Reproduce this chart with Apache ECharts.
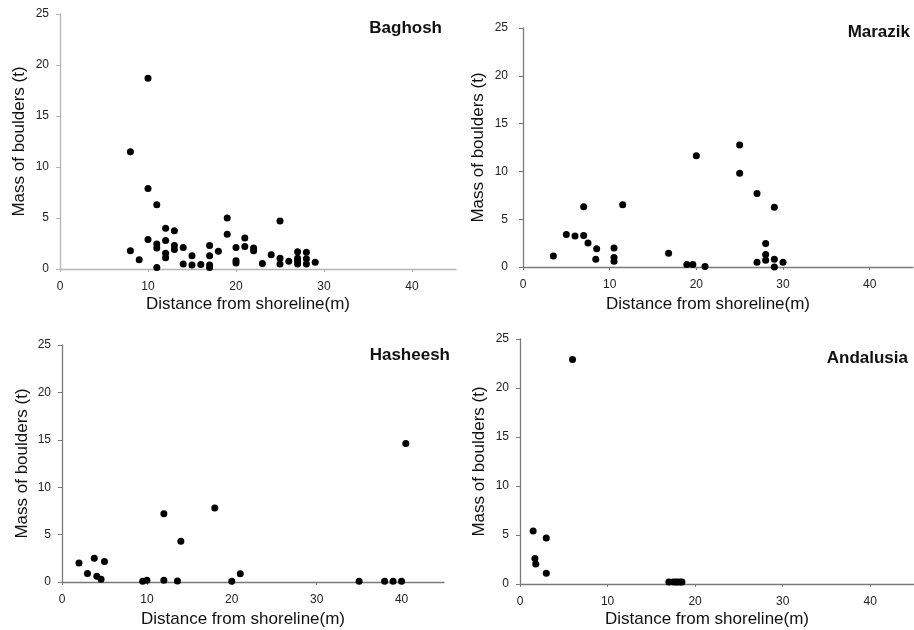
<!DOCTYPE html>
<html>
<head>
<meta charset="utf-8">
<script src="https://cdn.jsdelivr.net/npm/echarts@6/dist/echarts.min.js"></script>
<style>html,body{margin:0;padding:0;background:#fff}#c{width:914px;height:630px}</style>
</head>
<body>
<div id="c"></div>
<script>
// ---- Data (distance from shoreline in m, mass of boulders in t) ----
const siteNames = ['Baghosh', 'Marazik', 'Hasheesh', 'Andalusia'];

const baghoshDist = [8, 8, 9, 10, 10, 10, 11, 11, 11, 11, 12, 12, 12, 12, 13, 13, 13, 14, 14, 15, 15, 16, 17, 17, 17, 17, 18, 19, 19, 20, 20, 20, 21, 21, 22, 22, 23, 24, 25, 25, 25, 26, 27, 27, 27, 27, 28, 28, 28, 29];
const baghoshMass = [11.5, 1.8, 0.9, 18.7, 7.9, 2.9, 6.3, 2.45, 2.05, 0.15, 4.0, 2.8, 1.55, 1.1, 3.75, 2.3, 1.9, 2.1, 0.5, 1.3, 0.4, 0.45, 2.3, 1.3, 0.4, 0.15, 1.75, 5.0, 3.4, 2.1, 0.8, 0.6, 3.05, 2.2, 2.05, 1.8, 0.55, 1.4, 4.7, 1.05, 0.5, 0.75, 1.7, 1.05, 0.8, 0.5, 1.65, 1.0, 0.5, 0.65];

const marazikDist = [3.5, 5, 6, 7, 7, 7.5, 8.5, 8.4, 10.5, 10.5, 10.5, 11.5, 16.8, 18.9, 19.6, 20, 21, 25, 25, 27, 27, 28, 28, 28, 29, 29, 29, 30];
const marazikMass = [1.15, 3.4, 3.25, 6.3, 3.3, 2.5, 1.9, 0.8, 2.0, 1.0, 0.6, 6.5, 1.45, 0.25, 0.25, 11.65, 0.05, 12.75, 9.8, 7.7, 0.5, 2.45, 1.3, 0.7, 6.25, 0.8, 0.0, 0.5];

const hasheeshDist = [2, 3, 3.8, 4.1, 4.6, 5, 9.5, 10, 12, 12, 13.6, 14, 18, 20, 21, 35, 38, 39, 40, 40.5];
const hasheeshMass = [2.0, 0.9, 2.5, 0.6, 0.3, 2.15, 0.07, 0.18, 7.2, 0.18, 0.1, 4.3, 7.8, 0.07, 0.88, 0.07, 0.07, 0.07, 0.07, 14.6];

const andalusiaDist = [1.5, 3, 1.7, 1.8, 3, 6, 17, 17.5, 17.8, 18, 18.3, 18.5];
const andalusiaMass = [5.4, 4.7, 2.6, 2.05, 1.1, 22.9, 0.2, 0.2, 0.2, 0.2, 0.2, 0.2];

const xTicks = [0, 10, 20, 30, 40];
const yTicks = [0, 5, 10, 15, 20, 25];
const xTitle = 'Distance from shoreline(m)';
const yTitle = 'Mass of boulders (t)';

const dists = [baghoshDist, marazikDist, hasheeshDist, andalusiaDist];
const masses = [baghoshMass, marazikMass, hasheeshMass, andalusiaMass];

// ---- Layout / style ----
const FONT = '"Liberation Sans", Arial, sans-serif';
const grids = [
  { left: 60, top: 14, width: 396, height: 255 },
  { left: 523, top: 28, width: 390, height: 239 },
  { left: 62, top: 345, width: 382, height: 237 },
  { left: 520, top: 339, width: 394, height: 245 }
];
const axisColors = ['#b4b4b4', '#7a7a7a', '#7a7a7a', '#7a7a7a'];
const xGaps = [27, 29, 29, 27];
const yGaps = [32, 36, 31, 32];
const yLabelMargins = [11, 15, 11, 11];
const labelPos = [[442, 28], [910, 32], [450, 355], [908, 358]];

const xAxes = [], yAxes = [], series = [], graphics = [];
for (let i = 0; i < 4; i++) {
  const ac = axisColors[i];
  xAxes.push({
    gridIndex: i, type: 'value', min: 0, max: 45,
    name: xTitle, nameLocation: 'middle', nameGap: xGaps[i],
    nameTextStyle: { fontFamily: FONT, fontSize: 17, color: '#111', padding: [0, 20, 0, 0] },
    axisLine: { show: true, onZero: false, lineStyle: { color: ac, width: 1.3 } },
    axisTick: { show: true, inside: false, length: 3, customValues: xTicks, lineStyle: { color: ac } },
    axisLabel: { customValues: xTicks, margin: 12, fontFamily: FONT, fontSize: 12, color: '#222' },
    splitLine: { show: false }
  });
  yAxes.push({
    gridIndex: i, type: 'value', min: 0, max: 25, interval: 5,
    name: yTitle, nameLocation: 'middle', nameGap: yGaps[i],
    nameTextStyle: { fontFamily: FONT, fontSize: 17, color: '#111' },
    axisLine: { show: true, onZero: false, lineStyle: { color: ac, width: 1.3 } },
    axisTick: { show: true, inside: false, length: 4, lineStyle: { color: ac } },
    axisLabel: { margin: yLabelMargins[i], fontFamily: FONT, fontSize: 12, color: '#222' },
    splitLine: { show: false }
  });
  series.push({
    type: 'scatter', name: siteNames[i], xAxisIndex: i, yAxisIndex: i,
    symbol: 'circle', symbolSize: 7,
    itemStyle: { color: '#000', opacity: 1 },
    data: dists[i].map((d, k) => [d, masses[i][k]])
  });
  graphics.push({
    type: 'text', x: labelPos[i][0], y: labelPos[i][1],
    style: { text: siteNames[i], fontFamily: FONT, fontSize: 17, fontWeight: 'bold', fill: '#111', align: 'right', verticalAlign: 'middle' }
  });
}

const chart = echarts.init(document.getElementById('c'), null, { renderer: 'canvas' });
chart.setOption({
  animation: false,
  backgroundColor: '#fff',
  grid: grids,
  xAxis: xAxes,
  yAxis: yAxes,
  series: series,
  graphic: graphics
});
</script>
</body>
</html>
